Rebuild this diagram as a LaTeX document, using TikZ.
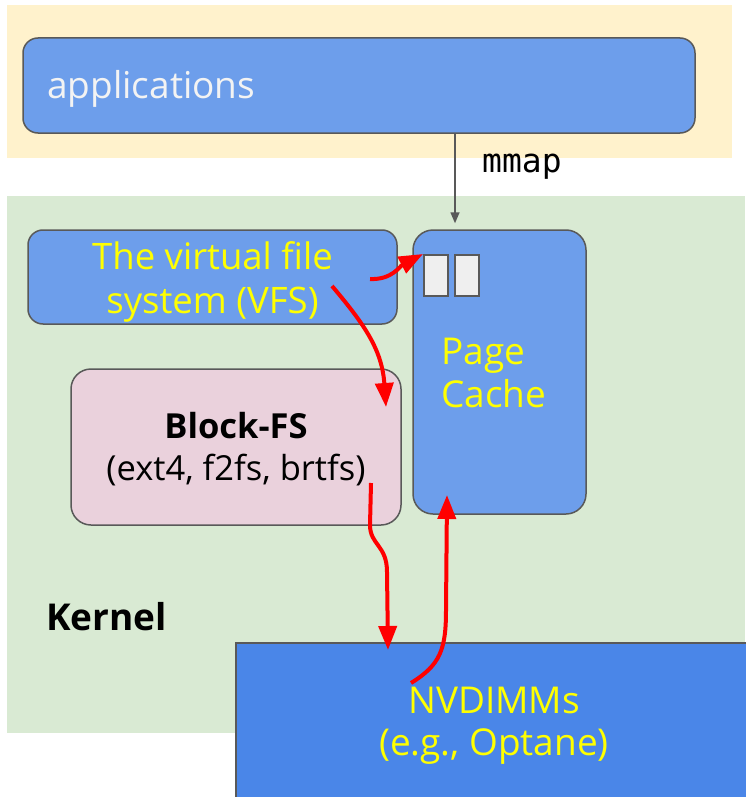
\documentclass[tikz,border=0pt]{standalone}
\usepackage{fontspec}
\setmainfont{Open Sans}
\newfontfamily\codefont{DejaVu Sans Mono}
\usetikzlibrary{arrows.meta}

\definecolor{userbg}{HTML}{FFF2CC}
\definecolor{kernelbg}{HTML}{D9EAD3}
\definecolor{boxblue}{HTML}{6D9EEB}
\definecolor{devblue}{HTML}{4A86E8}
\definecolor{fspink}{HTML}{EAD1DC}
\definecolor{edgegray}{HTML}{595959}
\definecolor{pagegray}{HTML}{EFEFEF}
\definecolor{labelyellow}{HTML}{FFFF00}
\definecolor{apptext}{HTML}{F3F3F3}
\definecolor{flowred}{HTML}{FF0000}

\tikzset{
  layerbox/.style={draw=edgegray, line width=1.5pt, rounded corners=#1, inner sep=0pt},
  layerbox/.default=15pt,
  pageslot/.style={draw=edgegray, fill=pagegray, line width=1.5pt, inner sep=0pt,
    minimum width=24pt, minimum height=41pt, anchor=north west},
  flow/.style={draw=flowred, line width=4pt,
    -{Triangle[length=24pt,width=18pt]}},
  callarrow/.style={draw=edgegray, line width=1.5pt,
    -{Triangle[length=11pt,width=9pt]}},
  ylabel/.style={text=labelyellow, inner sep=0pt},
}

\newcommand{\fsz}[2]{\fontsize{#1}{#2}\selectfont}

\begin{document}
\begin{tikzpicture}[x=1pt, y=-1pt]
\useasboundingbox (0,0) rectangle (745,797);

% user space and kernel space bands
\fill[userbg] (7,5) rectangle (732,158);
\fill[kernelbg] (7,196) rectangle (745,733);

% applications
\node[layerbox, fill=boxblue, minimum width=672pt, minimum height=95pt] (apps) at (359,85.5) {};
\node[anchor=base west, text=apptext, inner sep=0pt, font=\fsz{37}{43}] (appslabel) at (47,99) {applications};

% virtual file system
\node[layerbox, fill=boxblue, minimum width=369pt, minimum height=94pt] (vfs) at (212.5,277) {};
\node[ylabel, anchor=base, font=\fsz{36.5}{44}] (vfsl1) at (212.5,269) {The virtual file};
\node[ylabel, anchor=base, font=\fsz{36.5}{44}] (vfsl2) at (212.5,313) {system (VFS)};

% page cache
\node[layerbox=20pt, fill=boxblue, minimum width=173pt, minimum height=284pt] (pc) at (499.5,372) {};
\node[pageslot] (slot1) at (423,254) {};
\node[pageslot] (slot2) at (454,254) {};
\node[ylabel, anchor=base west, font=\fsz{37}{43}] (pcl1) at (441,364) {Page};
\node[ylabel, anchor=base west, font=\fsz{37}{43}] (pcl2) at (441,407) {Cache};

% block file systems
\node[layerbox=20pt, fill=fspink, minimum width=330pt, minimum height=156pt] (blk) at (236,447) {};
\node[anchor=base, inner sep=0pt, font=\fsz{34.5}{42}\bfseries] (blkl1) at (236,438) {Block-FS};
\node[anchor=base, inner sep=0pt, font=\fsz{34.5}{42}] (blkl2) at (236,480) {(ext4, f2fs, brtfs)};

% kernel label
\node[anchor=base west, inner sep=0pt, font=\fsz{37}{44}\bfseries] (kernel) at (46,630) {Kernel};

% persistent memory device
\node[draw=edgegray, line width=1.5pt, fill=devblue, inner sep=0pt,
      minimum width=516pt, minimum height=170pt] (nv) at (494,728) {};
\node[ylabel, anchor=base, font=\fsz{37}{42}] (nvl1) at (494,713) {NVDIMMs};
\node[ylabel, anchor=base, font=\fsz{37}{42}] (nvl2) at (494,755) {(e.g., Optane)};

% mmap call
\coordinate (mmapsrc) at (455,133);
\draw[callarrow] (mmapsrc) -- (mmapsrc |- pc.north) [shorten >=6pt];
\node[anchor=base west, inner sep=0pt, font=\codefont\fsz{33}{40}] (mmapl) at (482,172) {mmap};

% red data paths
\coordinate (vfsA) at (370,279);
\coordinate (vfsB) at (332,286);
\coordinate (blkA) at (371,483);
\coordinate (blkIn) at (386,407);
\coordinate (nvIn) at (388,650);
\coordinate (nvA) at (411,683);
\coordinate (pcIn) at (447,495);

\draw[flow] (vfsA) .. controls (392,280) and (400,266) .. (slot1.north west);
\draw[flow] (vfsB) .. controls (365,325) and (382,350) .. (blkIn);
\draw[flow] (blkA) -- (370,525) .. controls (370,545) and (387,545) .. (387,572) -- (nvIn);
\draw[flow] (nvA) .. controls (440,665) and (446,650) .. (446,610) -- (pcIn);
\end{tikzpicture}
\end{document}
